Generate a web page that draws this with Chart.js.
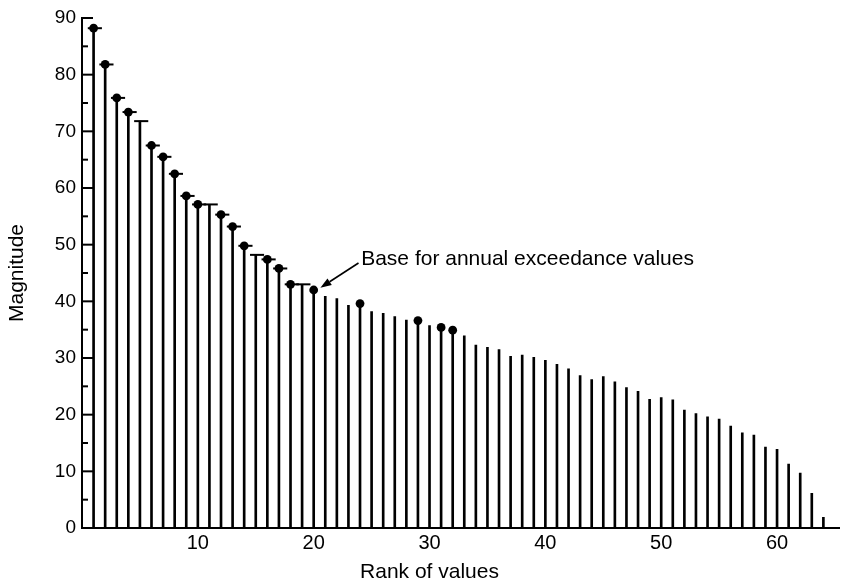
<!DOCTYPE html>
<html>
<head>
<meta charset="utf-8">
<title>Rank of values</title>
<script src="https://cdn.jsdelivr.net/npm/chart.js@4.4.1/dist/chart.umd.min.js"></script>
<style>
  html, body { margin: 0; padding: 0; background: #fff; }
  #wrap { width: 844px; height: 584px; }
</style>
</head>
<body>
<div id="wrap"><canvas id="c" width="844" height="584"></canvas></div>
<script>
// Ranked magnitudes (rank 1 = largest)
const ranks = [
  1, 2, 3, 4, 5, 6, 7, 8, 9, 10,
  11, 12, 13, 14, 15, 16, 17, 18, 19, 20,
  21, 22, 23, 24, 25, 26, 27, 28, 29, 30,
  31, 32, 33, 34, 35, 36, 37, 38, 39, 40,
  41, 42, 43, 44, 45, 46, 47, 48, 49, 50,
  51, 52, 53, 54, 55, 56, 57, 58, 59, 60,
  61, 62, 63, 64
];
const magnitudes = [
  88.2, 81.8, 75.9, 73.4, 71.8, 67.5, 65.5, 62.5, 58.6, 57.1,
  57.1, 55.3, 53.2, 49.8, 48.2, 47.4, 45.8, 43.0, 43.0, 42.0,
  40.9, 40.5, 39.3, 39.6, 38.2, 37.9, 37.3, 36.7, 36.6, 35.7,
  35.4, 34.9, 33.9, 32.3, 31.9, 31.5, 30.3, 30.5, 30.1, 29.6,
  28.9, 28.1, 26.9, 26.2, 26.7, 25.8, 24.8, 24.1, 22.7, 23.0,
  22.6, 20.8, 20.2, 19.6, 19.2, 18.0, 16.8, 16.4, 14.3, 13.9,
  11.3, 9.7, 6.1, 1.9
];
// Ranks marked with a dot (annual maxima)
const dotRanks = [1, 2, 3, 4, 6, 7, 8, 9, 10, 12, 13, 14, 16, 17, 18, 20, 24, 29, 31, 32];
// Ranks topped with a horizontal step
const capRanks = [1, 2, 3, 4, 5, 6, 7, 8, 9, 10, 11, 12, 13, 14, 15, 16, 17, 18, 19];
const xTickLabels = [10, 20, 30, 40, 50, 60];
const yMajorTicks = [0, 10, 20, 30, 40, 50, 60, 70, 80, 90];
const yMinorTicks = [5, 15, 25, 35, 45, 55, 65, 75, 85];

const xTitle = 'Rank of values';
const yTitle = 'Magnitude';
const noteText = 'Base for annual exceedance values';

const FONT = "'Liberation Sans', Arial, Helvetica, sans-serif";

const valueAt = r => magnitudes[ranks.indexOf(r)];
const barPoints = ranks.map((r, i) => ({ x: r, y: magnitudes[i] }));
const dotPoints = dotRanks.map(r => ({ x: r, y: valueAt(r) }));

// Caps, inward y ticks, x title and the arrowed note
const inkPlugin = {
  id: 'ink',
  afterDraw(chart) {
    const { ctx, chartArea, scales: { x, y } } = chart;
    ctx.save();
    ctx.strokeStyle = '#000';
    ctx.fillStyle = '#000';
    ctx.lineCap = 'butt';

    // step caps on the top values
    ctx.lineWidth = 2;
    capRanks.forEach(r => {
      const py = y.getPixelForValue(valueAt(r));
      ctx.beginPath();
      ctx.moveTo(x.getPixelForValue(r - 0.5), py);
      ctx.lineTo(x.getPixelForValue(r + 0.72), py);
      ctx.stroke();
    });

    // y ticks pointing into the plot
    const left = chartArea.left;
    ctx.lineWidth = 2;
    yMajorTicks.forEach(v => {
      const py = y.getPixelForValue(v);
      ctx.beginPath(); ctx.moveTo(left, py); ctx.lineTo(left + 11, py); ctx.stroke();
    });
    yMinorTicks.forEach(v => {
      const py = y.getPixelForValue(v);
      ctx.beginPath(); ctx.moveTo(left, py); ctx.lineTo(left + 6, py); ctx.stroke();
    });

    // x axis title
    ctx.font = '21px ' + FONT;
    ctx.textAlign = 'center';
    ctx.textBaseline = 'alphabetic';
    ctx.fillText(xTitle, x.getPixelForValue(30), x.bottom - 6);

    // note with arrow
    ctx.textAlign = 'left';
    ctx.fillText(noteText, x.getPixelForValue(24.1), y.getPixelForValue(46.4));
    const sx = x.getPixelForValue(23.87), sy = y.getPixelForValue(46.76);
    const tx = x.getPixelForValue(20.58), ty = y.getPixelForValue(42.4);
    const ang = Math.atan2(ty - sy, tx - sx);
    const headLen = 11, headHalf = 4;
    const bx = tx - headLen * Math.cos(ang), by = ty - headLen * Math.sin(ang);
    ctx.lineWidth = 1.6;
    ctx.beginPath(); ctx.moveTo(sx, sy); ctx.lineTo(bx, by); ctx.stroke();
    ctx.beginPath();
    ctx.moveTo(tx, ty);
    ctx.lineTo(bx + headHalf * Math.sin(ang), by - headHalf * Math.cos(ang));
    ctx.lineTo(bx - headHalf * Math.sin(ang), by + headHalf * Math.cos(ang));
    ctx.closePath();
    ctx.fill();
    ctx.restore();
  }
};

new Chart(document.getElementById('c'), {
  type: 'bar',
  data: {
    datasets: [
      {
        type: 'bar',
        data: barPoints,
        backgroundColor: '#000',
        borderWidth: 0,
        barThickness: 2,
        grouped: false,
        order: 2
      },
      {
        type: 'scatter',
        data: dotPoints,
        pointRadius: 4.4,
        pointBackgroundColor: '#000',
        pointBorderColor: '#000',
        pointBorderWidth: 0,
        order: 1
      }
    ]
  },
  options: {
    responsive: false,
    animation: false,
    layout: { padding: { top: 18, right: 0, bottom: 0, left: 0 } },
    plugins: { legend: { display: false }, tooltip: { enabled: false } },
    scales: {
      x: {
        type: 'linear',
        min: 0,
        max: 65.4,
        offset: false,
        grid: { display: true, drawOnChartArea: false, drawTicks: false, color: 'rgba(0,0,0,0)' },
        border: { display: true, color: '#000', width: 2 },
        afterBuildTicks: s => { s.ticks = xTickLabels.map(v => ({ value: v })); },
        afterFit: s => { s.height = 56; s.paddingLeft = 0; s.paddingRight = 0; },
        ticks: {
          color: '#000',
          padding: 3,
          maxRotation: 0,
          font: { family: FONT, size: 20 }
        }
      },
      y: {
        min: 0,
        max: 90,
        grid: { display: true, drawOnChartArea: false, drawTicks: false, color: 'rgba(0,0,0,0)' },
        border: { display: true, color: '#000', width: 2 },
        afterBuildTicks: s => { s.ticks = yMajorTicks.map(v => ({ value: v })); },
        afterFit: s => { s.width = 82; },
        ticks: {
          color: '#000',
          padding: 6,
          font: { family: FONT, size: 19 }
        },
        title: {
          display: true,
          text: yTitle,
          color: '#000',
          padding: { top: 5, bottom: 0 },
          font: { family: FONT, size: 21 }
        }
      }
    }
  },
  plugins: [inkPlugin]
});
</script>
</body>
</html>
